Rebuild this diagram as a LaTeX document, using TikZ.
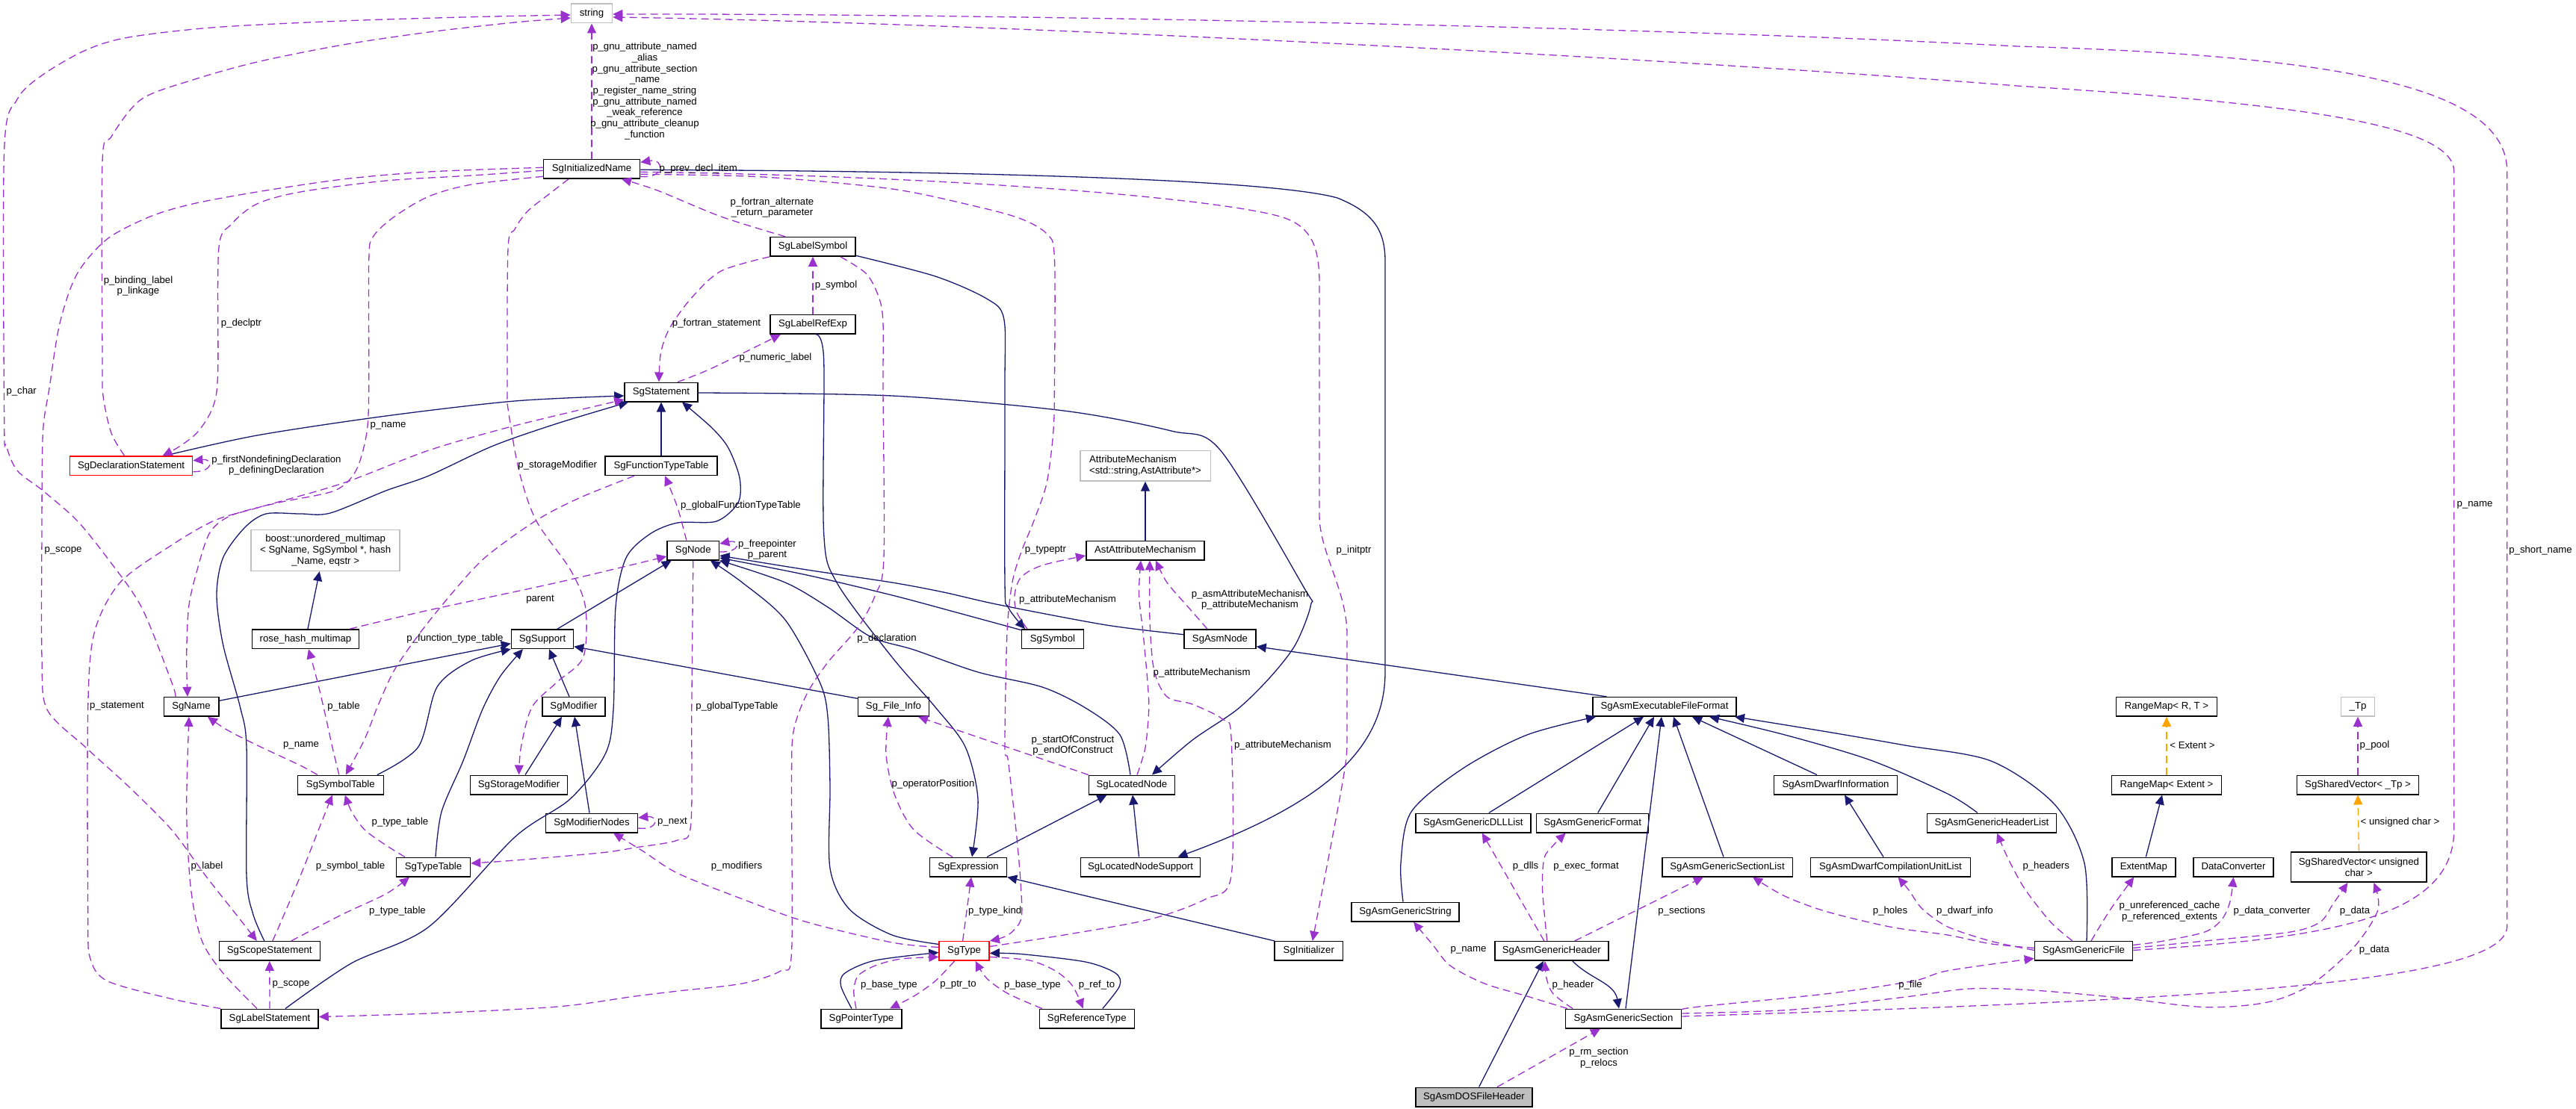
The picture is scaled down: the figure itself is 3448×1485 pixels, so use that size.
\documentclass[tikz,border=0pt]{standalone}
\usepackage{fontspec}
\setmainfont{Liberation Sans}
\usetikzlibrary{arrows.meta}
\definecolor{navy}{RGB}{25,25,112}
\definecolor{purp}{RGB}{154,50,205}
\definecolor{orng}{RGB}{255,165,0}
\definecolor{grayb}{RGB}{191,191,191}
\newcommand\nf{\fontsize{13.2}{14.7}\selectfont}
\tikzset{
  cls/.style={draw=black, line width=1.5pt, fill=white, inner sep=0pt, minimum height=25.5pt, font=\nf, text height=9.5pt, text depth=2.8pt},
  mcls/.style={draw=black, line width=1.5pt, fill=white, inner sep=0pt, font=\nf},
  lbl/.style={font=\nf, inner sep=0pt, align=center},
  inh/.style={draw=navy, line width=1.3pt, -{Triangle[length=13pt,width=12pt]}},
  use/.style={draw=purp, line width=1.3pt, dash pattern=on 10pt off 6pt, -{Triangle[length=13pt,width=12pt]}},
  tpl/.style={draw=orng, line width=1.3pt, dash pattern=on 10pt off 6pt, -{Triangle[length=13pt,width=12pt]}},
}
\begin{document}
\begin{tikzpicture}[x=1pt,y=-1pt]
\useasboundingbox (0,0) rectangle (3448,1485);
\fill[white] (0,0) rectangle (3448,1485);
% ---------------- nodes
\node[cls, draw=grayb, minimum width=55pt] (str) at (792,18) {string};
\node[cls, minimum width=129pt] (ini) at (792,226.3) {SgInitializedName};
\node[cls, minimum width=114pt] (lsy) at (1088,330.3) {SgLabelSymbol};
\node[cls, minimum width=114pt] (lre) at (1088,434.3) {SgLabelRefExp};
\node[cls, minimum width=98pt] (stm) at (885,525) {SgStatement};
\node[cls, draw=red, minimum width=164pt] (dcl) at (175.6,623.7) {SgDeclarationStatement};
\node[cls, minimum width=150pt] (ftt) at (885,623.7) {SgFunctionTypeTable};
\node[mcls, draw=grayb, minimum width=174.5pt, minimum height=40.3pt, align=left] (atm) at (1533,623.8) {AttributeMechanism\\<std::string,AstAttribute*>};
\node[mcls, draw=grayb, minimum width=199pt, minimum height=54.6pt, align=center] (bst) at (435.7,737) {boost::unordered\_multimap\\< SgName, SgSymbol *, hash\\\_Name, eqstr >};
\node[cls, minimum width=69.5pt] (nod) at (927.8,737) {SgNode};
\node[cls, minimum width=158.4pt] (aam) at (1533,737) {AstAttributeMechanism};
\node[cls, minimum width=143pt] (rhm) at (409,855.7) {rose\_hash\_multimap};
\node[cls, minimum width=83pt] (sup) at (726,855.7) {SgSupport};
\node[cls, minimum width=82.7pt] (sym) at (1409,855.7) {SgSymbol};
\node[cls, minimum width=96pt] (asn) at (1633,855.7) {SgAsmNode};
\node[cls, minimum width=73.5pt] (nam) at (256,946.3) {SgName};
\node[cls, minimum width=84pt] (mod) at (768,946.3) {SgModifier};
\node[cls, minimum width=95pt] (fin) at (1196,946.3) {Sg\_File\_Info};
\node[cls, minimum width=192.3pt] (aef) at (2228,946.3) {SgAsmExecutableFileFormat};
\node[cls, minimum width=135pt] (rmrt) at (2900,946.3) {RangeMap< R, T >};
\node[cls, draw=grayb, minimum width=44.7pt] (tp) at (3156,946.3) {\_Tp};
\node[cls, minimum width=115pt] (syt) at (455.8,1051) {SgSymbolTable};
\node[cls, minimum width=130pt] (stmod) at (694.6,1051) {SgStorageModifier};
\node[cls, minimum width=115pt] (lnd) at (1515,1051) {SgLocatedNode};
\node[cls, minimum width=165pt] (dwi) at (2457,1051) {SgAsmDwarfInformation};
\node[cls, minimum width=146.6pt] (rme) at (2900,1051) {RangeMap< Extent >};
\node[cls, minimum width=162.7pt] (svt) at (3156,1051) {SgSharedVector< \_Tp >};
\node[cls, minimum width=123pt] (mnd) at (792,1102) {SgModifierNodes};
\node[cls, minimum width=154pt] (dll) at (1971.8,1102) {SgAsmGenericDLLList};
\node[cls, minimum width=150pt] (fmt) at (2131.7,1102) {SgAsmGenericFormat};
\node[cls, minimum width=173pt] (hdl) at (2666,1102) {SgAsmGenericHeaderList};
\node[cls, minimum width=99pt] (tyt) at (580,1161) {SgTypeTable};
\node[cls, minimum width=103pt] (expr) at (1296,1161) {SgExpression};
\node[cls, minimum width=160pt] (lns) at (1526.5,1161) {SgLocatedNodeSupport};
\node[cls, minimum width=174.5pt] (sel) at (2312,1161) {SgAsmGenericSectionList};
\node[cls, minimum width=214pt] (dcu) at (2530.5,1161) {SgAsmDwarfCompilationUnitList};
\node[cls, minimum width=85pt] (exm) at (2869.3,1161) {ExtentMap};
\node[cls, minimum width=107pt] (dcv) at (2989.5,1161) {DataConverter};
\node[mcls, minimum width=181.6pt, minimum height=40.4pt, align=center] (svc) at (3157.4,1161) {SgSharedVector< unsigned\\char >};
\node[cls, minimum width=144pt] (gst) at (1881,1221) {SgAsmGenericString};
\node[cls, minimum width=135pt] (sco) at (360.8,1273.4) {SgScopeStatement};
\node[cls, draw=red, minimum width=67pt] (typ) at (1290.6,1273.4) {SgType};
\node[cls, minimum width=91.7pt] (inz) at (1751.8,1273.4) {SgInitializer};
\node[cls, minimum width=152pt] (ghd) at (2076.8,1273.4) {SgAsmGenericHeader};
\node[cls, minimum width=131pt] (gfl) at (2789,1273.4) {SgAsmGenericFile};
\node[cls, minimum width=130pt] (lst) at (361,1364) {SgLabelStatement};
\node[cls, minimum width=108pt] (pty) at (1153,1364) {SgPointerType};
\node[cls, minimum width=127pt] (rty) at (1454.8,1364) {SgReferenceType};
\node[cls, minimum width=155pt] (gsc) at (2173,1364) {SgAsmGenericSection};
\node[cls, fill=grayb, minimum width=156pt] (dos) at (1973,1469) {SgAsmDOSFileHeader};
% ---------------- inheritance
\draw[inh] ([xshift=6.6pt]dos.north) -- ([xshift=-11pt]ghd.south);
\draw[inh] ([xshift=28pt]ghd.south) to[out=-45,in=100] ([xshift=-6pt]gsc.north);
\draw[inh] ([xshift=3pt]gsc.north) -- ([xshift=-4pt]aef.south);
\draw[inh] plot[smooth] coordinates {([xshift=-3pt]gst.north) (1875,1156) (1889,1087) (1958,1029) (2044,984) ([xshift=-92pt]aef.south)};
\draw[inh] ([xshift=21pt]dll.north) -- ([xshift=-28pt]aef.south);
\draw[inh] ([xshift=7pt]fmt.north) -- ([xshift=-14pt]aef.south);
\draw[inh] ([xshift=-5pt]sel.north) -- ([xshift=12pt]aef.south);
\draw[inh] ([xshift=-25pt]dwi.north) -- ([xshift=37pt]aef.south);
\draw[inh] plot[smooth] coordinates {([xshift=-19pt]hdl.north) (2607,1063) (2504,1018) (2389,984) ([xshift=60pt]aef.south)};
\draw[inh] plot[smooth] coordinates {([xshift=4pt]gfl.north) (2790,1156) (2750,1077) (2665,1019) (2550,998) (2446,980) ([xshift=94pt]aef.south)};
\draw[inh] ([xshift=-9.5pt]dcu.north) -- ([xshift=12pt]dwi.south);
\draw[inh] ([xshift=-77.5pt]aef.north) -- ([yshift=-10pt]asn.east);
\draw[inh] plot[smooth] coordinates {([yshift=6pt]asn.west) (1481,837) (1338,810) (1263,793) (1194,780) (1080,763) ([yshift=-7pt]nod.east)};
\draw[inh] plot[smooth] coordinates {([yshift=12pt]sym.west) (1280,820) (1194,797) (1080,770) ([yshift=-10pt]nod.east)};
\draw[inh] plot[smooth] coordinates {([xshift=-2pt]lnd.north) (1499,984) (1453,948) (1395,920) (1309,900) (1223,870) (1166,853) (1108,813) (1051,780) (nod.south east)};
\draw[inh] plot[smooth] coordinates {([yshift=9pt]typ.west) (1194,1252) (1137,1217.5) (1111,1162.6) (1111,1053) (1108,960) (1097,913) (1051,830) (993.5,780) ([xshift=23pt]nod.south)};
\draw[inh] ([xshift=20pt]sup.north) -- ([xshift=-29pt]nod.south);
\draw[inh] plot[smooth] coordinates {([xshift=-7pt]sco.north) (338.7,1224) (330,1173) (330,1000) (321.5,947) (298.5,863) (290,797) (298.5,747) (327,707) (356,688) (402,688) (442,687) (516.6,657) (574,637) (660,597) (746,567) ([xshift=-44pt]stm.south)};
\draw[inh] plot[smooth] coordinates {([xshift=21pt]lst.north) (470,1290) (574,1241) (689,1121) (763,1070) (810,1010) (821,950) (824,813) (838,747) (870,715) (907,700) (959,698) (988,673) (990,640) (975,600) (953,573) ([xshift=28pt]stm.south)};
\draw[inh] plot[smooth] coordinates {([xshift=45pt]dcl.north) (344,583) (516.6,557) (689,537) ([yshift=-5pt]stm.west)};
\draw[inh] (ftt.north) -- (stm.south);
\draw[inh] plot[smooth] coordinates {([yshift=-12pt]lsy.east) (1252,370) (1320.7,400) (1343.7,426.7) (1345,520) (1345,780) (1349.4,813) ([xshift=-37pt]sym.north)};
\draw[inh] plot[smooth] coordinates {([xshift=3pt]lre.south) (1102.6,480) (1102.6,713) (1120,780) (1194,880) (1252,947) (1292,1000) (1309,1070) ([xshift=5pt]expr.north)};
\draw[inh] ([yshift=-1pt]ini.east) .. controls (1300,229) and (1700,240) .. (1790,265) .. controls (1840,285) and (1854,310) .. (1854,350) -- (1854,900) .. controls (1854,1010) and (1760,1080) .. ([xshift=50pt]lns.north);
\draw[inh] plot[smooth] coordinates {([yshift=-1pt]stm.east) (1194,530) (1424,550) (1567.6,577) (1633.6,603) (1745.5,787) (1754.5,810) (1734,863) (1700,907) (1656,950) (1596,991) ([xshift=27pt]lnd.north)};
\draw[inh] ([xshift=25pt]expr.north) -- ([xshift=-33.5pt]lnd.south);
\draw[inh] ([xshift=-2pt]lns.north) -- ([xshift=1pt]lnd.south);
\draw[inh] ([xshift=-46pt]inz.north) -- (expr.south east);
\draw[inh] plot[smooth] coordinates {([xshift=-13pt]pty.north) (1125.5,1320) (1131,1303) (1171.5,1286) ([yshift=-2pt]typ.west)};
\draw[inh] plot[smooth] coordinates {([xshift=21pt]rty.north) (1498.7,1320) (1493,1303) (1452.7,1288) (1366.6,1277.5) ([yshift=-3pt]typ.east)};
\draw[inh] plot[smooth] coordinates {([xshift=49pt]syt.north) (560,1000) (585,920) (630,885) (sup.south west)};
\draw[inh] plot[smooth] coordinates {([xshift=3pt]tyt.north) (591,1087) (620,1018.6) (645.8,950) (670,905) ([xshift=-26pt]sup.south)};
\draw[inh] ([xshift=-6pt]mod.north) -- ([xshift=9pt]sup.south);
\draw[inh] ([yshift=8pt]nam.east) -- ([yshift=-6pt]sup.west);
\draw[inh] ([yshift=11pt]fin.west) -- ([yshift=-10pt]sup.east);
\draw[inh] ([xshift=3pt]rhm.north) -- ([xshift=-8pt]bst.south);
\draw[inh] ([xshift=-3pt]mnd.north) -- ([xshift=1pt]mod.south);
\draw[inh] ([xshift=8.4pt]stmod.north) -- ([xshift=-16pt]mod.south);
\draw[inh] (aam.north) -- (atm.south);
\draw[inh] ([xshift=3pt]exm.north) -- ([xshift=-6pt]rme.south);
% ---------------- template instances
\draw[tpl] (rme.north) -- (rmrt.south);
\draw[tpl] (svc.north) -- (svt.south);
% ---------------- usage
\draw[use] (ini.north) -- (str.south);
\draw[use] plot[smooth] coordinates {([xshift=-9pt]dcl.north) (149,580) (138,530) (137,480) (137,217) (149,183) (189,133) (258,107) (344,83) (459,60) (574,43) (689,30) ([yshift=-6pt]str.west)};
\draw[use] plot[smooth] coordinates {([xshift=-21pt]nam.north) (229.6,913) (189.4,813) (143.5,747) (103,697) (57.4,657) (23,630) (8.6,597) (5.7,563) (5.7,200) (23,133) (57.4,100) (115,67) (172,50) (287,36.7) (459,28) (631.5,22.7) ([yshift=-2pt]str.west)};
\draw[use] plot[smooth] coordinates {([yshift=2pt]ini.west) (574,230) (459,240) (344,257) (258,273) (201,290) (143.5,320) (103,367) (80,433) (66,520) (57.4,580) (56,713) (56,880) (63,950) (115,1001) (172,1053) (229.6,1111) (275.5,1173) (315.7,1224) ([xshift=-17pt]sco.north)};
\draw[use] plot[smooth] coordinates {([yshift=-2pt]ini.west) (631.5,235) (516.6,242) (402,257) (344,273) (310,300) (292.8,333) (291.6,500) (285,545) (265,578) (240,598) ([xshift=42pt]dcl.north)};
\draw[use] plot[smooth] coordinates {([yshift=-10pt]ini.west) (631.5,247) (574,263) (528,290) (499.4,317) (493.7,350) (493.7,520) (490.8,580) (476.5,630) (447.8,657) (373,673) (310,690) (281,713) (264,763) (252.6,813) (249.7,880) ([xshift=-5pt]nam.north)};
\draw[use] plot[smooth] coordinates {([xshift=-31pt]ini.south) (734.8,260) (706,283) (689,307) (680,333) (679,520) (680,547) (694.6,630) (717.6,697) (763.5,763) (783.6,813) (780.7,880) (746,913) (712,947) (697.5,1000) (stmod.north)};
\draw[use] plot[smooth] coordinates {([xshift=-37pt]lsy.north) (965,290) (880,255) ([xshift=40pt]ini.south)};
\draw[use] ([yshift=-10pt]ini.east) .. controls (890,240) and (890,212) .. ([yshift=9pt]ini.east);
\draw[use] plot[smooth] coordinates {(lsy.south west) (965,363) (924.6,400) (896,440) (884.4,473) ([xshift=-3pt]stm.north)};
\draw[use] (lre.north) -- (lsy.south);
\draw[use] plot[smooth] coordinates {([xshift=22pt]stm.north) (953,493) ([xshift=-43pt]lre.south)};
\draw[use] plot[smooth] coordinates {([xshift=37pt]lsy.south) (1160,367) (1177,400) (1182,433) (1182,520) (1183,747) (1171.5,797) (1148.5,840) (1108,887) (1079.6,930) (1062,980) (1059.5,1050) (1059.5,1276) (1045,1300) (993.5,1317) (907.4,1327) (850,1334) (746,1348) (574,1357) ([yshift=2.5pt]lst.east)};
\draw[use] plot[smooth] coordinates {([xshift=-34pt]sym.north) (1361,820) (1358,797) (1366.6,773) (1395,757) ([yshift=-7pt]aam.west)};
\draw[use] plot[smooth] coordinates {([yshift=-7pt]ini.east) (1022,237) (1194,253) (1309,277) (1366.6,293) (1401,313) (1411.4,345) (1411.4,520) (1409.7,580) (1401,647) (1384,697) (1366.6,740) (1355,780) (1348,847) (1345,1000) (1349.4,1018.6) (1361,1121.5) (1366.6,1190) (1366.6,1231) (1349.4,1252) (typ.north east)};
\draw[use] plot[smooth] coordinates {([xshift=7pt]lnd.north) (1533,1001) (1537.7,950) (1536,913) (1530,847) (1524.5,797) ([xshift=-6pt]aam.south)};
\draw[use] plot[smooth] coordinates {([yshift=6pt]typ.east) (1424,1252) (1539,1231) (1613.5,1204) (1648,1173) (1648,987) (1636.5,963) (1596,943) (1562,933) (1544.6,897) (1539,830) ([xshift=6pt]aam.south)};
\draw[use] plot[smooth] coordinates {([xshift=-17pt]asn.north) (1590.5,813) (1562,780) ([xshift=14pt]aam.south)};
\draw[use] ([yshift=-2pt]nod.east) .. controls (992,740) and (992,722) .. ([yshift=9pt]nod.east);
\draw[use] plot[smooth] coordinates {([xshift=-9pt]nod.north) (907,680) ([xshift=5pt]ftt.south)};
\draw[use] plot[smooth] coordinates {([xshift=59pt]rhm.north) (574,817) (746,780) ([yshift=-8pt]nod.west)};
\draw[use] plot[smooth] coordinates {([xshift=-2pt]syt.north) (445,1001) (436,960) (425,913) ([xshift=4pt]rhm.south)};
\draw[use] plot[smooth] coordinates {([xshift=-36pt]ftt.south) (775,667) (717.6,697) (648.7,747) (602.8,797) (562.6,847) (528,897) (505,947) (488,990) ([xshift=7pt]syt.north)};
\draw[use] plot[smooth] coordinates {([xshift=-31pt]syt.north) (402,1025) (344.4,998) (304,977.4) ([xshift=22pt]nam.south)};
\draw[use] plot[smooth] coordinates {([xshift=-17pt]lst.north) (298.5,1303) (269.8,1258.6) (255.5,1190) (249.7,1087) ([xshift=-3pt]nam.south)};
\draw[use] plot[smooth] coordinates {(lst.north west) (229.6,1337.5) (143.5,1313.5) (120.6,1282.6) (117.7,1224) (117.7,950) (126.3,847) (160.7,780) (229.6,730) (287,697) (344.4,680) (459,647) (574,603) (689,570) ([yshift=-10pt]stm.west)};
\draw[use] ([yshift=-8pt]dcl.east) .. controls (286,632) and (286,614) .. ([yshift=7pt]dcl.east);
\draw[use] plot[smooth] coordinates {([xshift=4pt]sco.north) (373,1241.5) (402,1173) (425,1114.6) ([xshift=-11pt]syt.south)};
\draw[use] plot[smooth] coordinates {([xshift=-38pt]tyt.north) (516.6,1131.8) (488,1111) (470.7,1087) ([xshift=6pt]syt.south)};
\draw[use] plot[smooth] coordinates {([xshift=29pt]sco.north) (459,1224) (516.6,1197) ([xshift=-32pt]tyt.south)};
\draw[use] (lst.north) -- (sco.south);
\draw[use] plot[smooth] coordinates {(nod.south) (925.8,950) (924.6,1105) (907,1125) (850,1135) (803.7,1142) (689,1152) ([yshift=5pt]tyt.east)};
\draw[use] plot[smooth] coordinates {([yshift=5pt]typ.west) (1194,1262) (1079.6,1234.6) (993.5,1203.8) (907.4,1169.5) (861,1140) ([xshift=29pt]mnd.south)};
\draw[use] ([yshift=-7pt]mnd.east) .. controls (882,1112) and (882,1092) .. ([yshift=7pt]mnd.east);
\draw[use] (lnd.north west) -- ([xshift=33pt]fin.south);
\draw[use] plot[smooth] coordinates {([xshift=-21pt]expr.north) (1223,1111) (1197,1063) (1186,1010) ([xshift=-7pt]fin.south)};
\draw[use] ([xshift=-2pt]typ.north) -- ([xshift=4pt]expr.south);
\draw[use] ([yshift=-4pt]ini.east) .. controls (1300,236) and (1650,268) .. (1720,292) .. controls (1755,305) and (1766,330) .. (1766,380) -- (1766,690) .. controls (1766,740) and (1803,790) .. (1803,850) -- (1803,990) .. controls (1803,1020) .. ([xshift=5pt]inz.north);
\draw[use] plot[smooth] coordinates {([xshift=-75pt]gsc.north) (2044,1334) (1987,1317) (1941,1293) (1918,1265.5) ([xshift=11pt]gst.south)};
\draw[use] plot[smooth] coordinates {([xshift=-68pt]gsc.north) (2079,1330.7) (2070,1310) ([xshift=-9pt]ghd.south)};
\draw[use] ([xshift=31pt]dos.north) -- ([xshift=-31pt]gsc.south);
\draw[use] ([xshift=-10pt]ghd.north) -- ([xshift=12pt]dll.south);
\draw[use] plot[smooth] coordinates {([xshift=-6pt]ghd.north) (2064.5,1190) (2067,1149) (2079,1132) ([xshift=-36pt]fmt.south)};
\draw[use] ([xshift=31pt]ghd.north) -- ([xshift=-32pt]sel.south);
\draw[use] plot[smooth] coordinates {([yshift=4pt]gfl.west) (2664.5,1263.8) (2607,1252) (2532,1241.5) (2446,1221) (2389,1200) ([xshift=34pt]sel.south)};
\draw[use] plot[smooth] coordinates {([yshift=1pt]gfl.west) (2664,1260) (2607,1241) (2573,1217) (2555,1192) ([xshift=10pt]dcu.south)};
\draw[use] plot[smooth] coordinates {([xshift=-15pt]gfl.north) (2744.7,1234.6) (2710,1190) (2687.5,1149) ([xshift=7pt]hdl.south)};
\draw[use] plot[smooth] coordinates {([xshift=10pt]gfl.north) (2825,1217.5) ([xshift=-13pt]exm.south)};
\draw[use] plot[smooth] coordinates {([yshift=8pt]gfl.east) (2893.6,1260.4) (2951,1248) (2974,1231) (2985,1207) (dcv.south)};
\draw[use] plot[smooth] coordinates {([yshift=4pt]gfl.east) (2951,1260) (3065.5,1248) (3105.6,1234.6) (3122.7,1210.6) ([xshift=-15pt]svc.south)};
\draw[use] ([yshift=1pt]gfl.east) .. controls (3150,1255) and (3284.8,1220) .. (3284.8,1110) -- (3284.8,230) .. controls (3284.8,170) and (3100,140) .. (2700,115) .. controls (2200,75) and (1300,30) .. ([yshift=-5pt]str.east);
\draw[use] ([yshift=3pt]gsc.east) .. controls (2900,1340) and (3355.8,1320) .. (3355.8,1240) -- (3355.8,230) .. controls (3355.8,120) and (3150,75) .. (2700,62) .. controls (2200,35) and (1300,18) .. ([yshift=-1pt]str.east);
\draw[use] plot[smooth] coordinates {([yshift=12pt]gsc.east) (2274,1348) (2446,1330.6) (2561,1313.5) (2607,1299.8) ([yshift=-10pt]gfl.west)};
\draw[use] plot[smooth] coordinates {([yshift=7pt]gsc.east) (2400,1352) (2550,1335) (2636,1324) (2722,1326) (2837,1336) (2951,1348.6) (3035,1342) (3094,1318) (3151,1268) (3183,1218) ([xshift=20pt]svc.south)};
\draw[use] (svt.north) -- (tp.south);
\draw[use] plot[smooth] coordinates {([xshift=-7pt]pty.north) (1142.8,1327) (1148.5,1306.7) (1171.5,1293) (1206,1284) ([yshift=-8pt]typ.west)};
\draw[use] plot[smooth] coordinates {([xshift=-13pt]typ.south) (1252,1313.5) (1223,1334) ([xshift=38pt]pty.north)};
\draw[use] plot[smooth] coordinates {([xshift=-60pt]rty.north) (1349.4,1330.6) (1320.7,1310) ([xshift=15pt]typ.south)};
\draw[use] plot[smooth] coordinates {([yshift=-8pt]typ.east) (1378,1286) (1412.6,1300) (1435.5,1320) ([xshift=-5pt]rty.north)};
% ---------------- labels
\node[lbl] (l1) at (863,122) {p\_gnu\_attribute\_named\\\_alias\\p\_gnu\_attribute\_section\\\_name\\p\_register\_name\_string\\p\_gnu\_attribute\_named\\\_weak\_reference\\p\_gnu\_attribute\_cleanup\\\_function};
\node[lbl] (l2) at (185,383) {p\_binding\_label\\p\_linkage};
\node[lbl] (l3) at (28.7,524) {p\_char};
\node[lbl] (l4) at (84.5,737) {p\_scope};
\node[lbl] (l5) at (323,433) {p\_declptr};
\node[lbl] (l6) at (519.5,570) {p\_name};
\node[lbl] (l7) at (746.3,622.7) {p\_storageModifier};
\node[lbl] (l8) at (1033.5,278) {p\_fortran\_alternate\\\_return\_parameter};
\node[lbl] (l9) at (934.7,226) {p\_prev\_decl\_item};
\node[lbl] (l10) at (959,433) {p\_fortran\_statement};
\node[lbl] (l11) at (1119,381.7) {p\_symbol};
\node[lbl] (l12) at (1038,479) {p\_numeric\_label};
\node[lbl] (l13) at (1187,855) {p\_declaration};
\node[lbl] (l14) at (1429,802.7) {p\_attributeMechanism};
\node[lbl] (l15) at (1399.5,736.7) {p\_typeptr};
\node[lbl] (l16) at (1608.6,900.7) {p\_attributeMechanism};
\node[lbl] (l17) at (1717,998) {p\_attributeMechanism};
\node[lbl] (l18) at (1673,803) {p\_asmAttributeMechanism\\p\_attributeMechanism};
\node[lbl] (l19) at (1027,736) {p\_freepointer\\p\_parent};
\node[lbl] (l20) at (991.5,676.7) {p\_globalFunctionTypeTable};
\node[lbl] (l21) at (723,802.7) {parent};
\node[lbl] (l22) at (460,945.7) {p\_table};
\node[lbl] (l23) at (609,855) {p\_function\_type\_table};
\node[lbl] (l24) at (403,998) {p\_name};
\node[lbl] (l25) at (277,1160) {p\_label};
\node[lbl] (l26) at (156.5,945.7) {p\_statement};
\node[lbl] (l27) at (370,623) {p\_firstNondefiningDeclaration\\p\_definingDeclaration};
\node[lbl] (l28) at (469,1160) {p\_symbol\_table};
\node[lbl] (l29) at (535.5,1101) {p\_type\_table};
\node[lbl] (l30) at (532,1220) {p\_type\_table};
\node[lbl] (l31) at (389.5,1318.6) {p\_scope};
\node[lbl] (l32) at (986.5,945.7) {p\_globalTypeTable};
\node[lbl] (l33) at (986,1160) {p\_modifiers};
\node[lbl] (l34) at (900,1101) {p\_next};
\node[lbl] (l35) at (1436,998) {p\_startOfConstruct\\p\_endOfConstruct};
\node[lbl] (l36) at (1249,1050) {p\_operatorPosition};
\node[lbl] (l37) at (1331.6,1220) {p\_type\_kind};
\node[lbl] (l38) at (1812,736.7) {p\_initptr};
\node[lbl] (l39) at (1965.5,1272) {p\_name};
\node[lbl] (l40) at (2105.5,1318.6) {p\_header};
\node[lbl] (l41) at (2140,1416.5) {p\_rm\_section\\p\_relocs};
\node[lbl] (l42) at (2042,1160) {p\_dlls};
\node[lbl] (l43) at (2123,1160) {p\_exec\_format};
\node[lbl] (l44) at (2251,1220) {p\_sections};
\node[lbl] (l45) at (2530,1220) {p\_holes};
\node[lbl] (l46) at (2630,1220) {p\_dwarf\_info};
\node[lbl] (l47) at (2738.7,1160) {p\_headers};
\node[lbl] (l48) at (2904,1220.5) {p\_unreferenced\_cache\\p\_referenced\_extents};
\node[lbl] (l49) at (3041,1220) {p\_data\_converter};
\node[lbl] (l50) at (3152,1220) {p\_data};
\node[lbl] (l51) at (3312.5,676.7) {p\_name};
\node[lbl] (l52) at (3400.5,736.7) {p\_short\_name};
\node[lbl] (l53) at (2557,1318.6) {p\_file};
\node[lbl] (l54) at (3178,1272) {p\_data};
\node[lbl] (l55) at (3178.5,998) {p\_pool};
\node[lbl] (l56) at (1190,1318.6) {p\_base\_type};
\node[lbl] (l57) at (1282.5,1318.6) {p\_ptr\_to};
\node[lbl] (l58) at (1382,1318.6) {p\_base\_type};
\node[lbl] (l59) at (1468,1318.6) {p\_ref\_to};
\node[lbl] (l60) at (2934.5,998) {< Extent >};
\node[lbl] (l61) at (3212.5,1101) {< unsigned char >};
\end{tikzpicture}
\end{document}
